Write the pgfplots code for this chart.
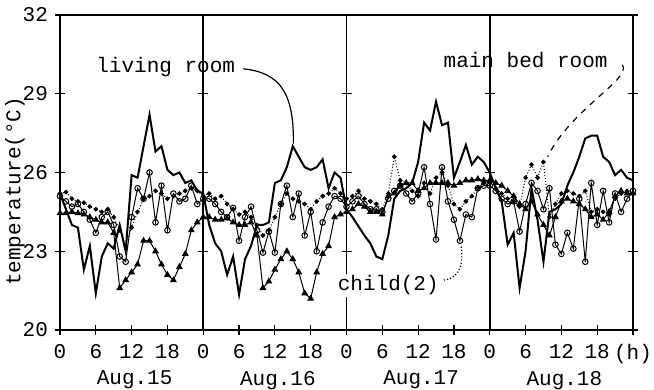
\documentclass[border=0pt]{standalone}
\usepackage{fontspec}
\setmainfont{Liberation Mono}
\usepackage{pgfplots}
\usepackage{pgfplotstable}
\pgfplotsset{compat=1.18}
\pgfplotstableread{
h A B C D
0 25.2 25.1 25.2 24.45
1 24.6 24.9 25.25 24.45
2 24.0 24.7 25.0 24.5
3 23.9 24.8 24.9 24.45
4 22.3 24.5 24.85 24.4
5 23.2 24.2 24.7 24.3
6 21.4 23.7 24.6 24.2
7 22.8 24.3 24.5 24.1
8 23.3 24.5 24.6 24.1
9 23.1 24.0 24.3 23.7
10 24.0 22.8 23.8 21.6
11 23.0 22.6 23.2 21.9
12 25.9 24.3 23.9 22.2
13 25.8 25.4 24.5 22.5
14 27.0 25.0 25.0 23.4
15 28.2 26.0 25.1 23.4
16 26.8 24.1 25.3 23.0
17 27.0 25.5 25.2 22.5
18 26.1 23.8 25.0 22.1
19 25.9 25.2 25.1 21.9
20 26.0 24.9 25.2 22.4
21 25.6 25.0 25.3 22.9
22 25.7 25.5 25.4 23.8
23 25.3 24.8 25.3 24.1
24 25.2 25.0 25.1 24.3
25 24.0 25.0 25.2 24.3
26 23.3 24.8 25.0 24.2
27 23.0 24.5 25.1 24.2
28 22.1 24.3 24.8 24.25
29 22.8 24.65 24.6 24.1
30 21.35 23.4 24.4 24.0
31 22.7 24.3 24.5 24.0
32 23.2 24.7 24.3 24.1
33 24.0 23.8 24.0 23.6
34 24.0 22.95 23.6 21.6
35 24.1 23.75 23.8 21.85
36 25.6 22.95 24.3 22.3
37 25.7 24.8 24.8 22.7
38 26.2 25.5 25.2 23.0
39 27.0 24.3 25.0 22.7
40 26.6 25.2 24.9 22.2
41 26.2 23.6 24.8 21.4
42 26.1 24.5 24.6 21.2
43 26.2 23.0 24.9 22.2
44 26.5 24.1 25.1 22.9
45 25.4 24.7 25.2 23.2
46 26.0 25.1 25.4 24.3
47 25.8 25.0 25.2 24.4
48 24.6 24.7 25.0 24.5
49 24.3 24.9 25.1 24.6
50 23.95 25.1 25.3 24.8
51 23.6 24.8 25.0 24.7
52 23.3 24.6 24.9 24.5
53 22.8 24.6 24.8 24.5
54 22.7 24.5 24.6 24.4
55 23.6 25.0 25.2 25.1
56 25.0 25.3 26.6 25.2
57 25.3 25.5 25.7 25.5
58 25.4 25.2 25.6 25.6
59 25.6 24.9 25.3 25.6
60 26.4 25.2 25.1 25.3
61 27.9 26.2 25.6 25.4
62 27.6 24.8 25.2 25.6
63 28.7 23.45 25.8 25.6
64 27.8 26.2 26.0 25.6
65 27.9 24.9 25.5 25.6
66 25.8 24.2 24.8 25.5
67 26.4 23.4 24.6 25.6
68 27.05 24.4 24.9 25.7
69 26.3 24.3 25.1 25.7
70 26.6 25.4 25.4 25.75
71 26.4 25.5 25.6 25.7
72 26.0 25.5 25.6 25.7
73 25.4 25.3 25.4 25.6
74 24.9 25.0 25.2 25.5
75 23.25 24.8 25.0 25.3
76 23.7 24.9 24.9 25.1
77 21.6 23.75 24.7 24.8
78 23.0 24.8 25.8 24.6
79 25.4 25.6 26.3 24.9
80 24.2 25.3 25.8 24.4
81 22.6 24.6 26.4 24.0
82 24.5 25.4 24.3 23.6
83 24.6 23.25 24.8 24.3
84 24.8 22.9 25.2 24.9
85 25.5 23.7 25.3 25.0
86 26.0 23.1 25.2 24.9
87 26.6 25.0 25.1 24.8
88 27.3 22.6 25.3 24.6
89 27.4 25.6 24.5 24.3
90 27.4 24.0 24.6 24.4
91 26.6 25.3 24.5 24.2
92 26.4 24.1 24.4 24.5
93 25.9 25.2 25.0 25.1
94 26.1 24.5 25.2 25.3
95 25.8 25.0 25.3 25.2
96 25.7 25.3 25.2 25.2
}\data
\begin{document}
\begin{tikzpicture}
\begin{axis}[name=ax,
  scale only axis, width=286.5pt, height=157.5pt,
  xmin=0, xmax=96, ymin=20, ymax=32,
  axis line style={line width=0.8pt},
  xtick={0,6,...,96},
  xticklabels={0,6,12,18,0,6,12,18,0,6,12,18,0,6,12,18,(h)},
  ytick={20,23,26,29,32},
  tick align=center, major tick length=5pt,
  tick style={black, line width=0.6pt},
  xtick pos=bottom,
  ytick pos=both,
  /pgf/number format/assume math mode=true,
  tick label style={font=\fontsize{10.5}{12}\selectfont},
  xticklabel style={yshift=-1pt},
  ylabel={temperature(°C)},
  ylabel style={font=\fontsize{10.5}{12}\selectfont, at={(axis description cs:-0.0785,0.44)}, anchor=center, rotate=0},
  clip=false,
]
\draw[line width=0.8pt] (axis cs:24,20) -- (axis cs:24,32);
\draw[line width=0.8pt] (axis cs:48,20) -- (axis cs:48,32);
\draw[line width=0.8pt] (axis cs:72,20) -- (axis cs:72,32);
\foreach \d in {24,48,72}{
  \foreach \t in {23,26,29}{
    \edef\temp{\noexpand\draw[line width=0.6pt] ([xshift=-2.5pt]axis cs:\d,\t) -- ([xshift=2.5pt]axis cs:\d,\t);}
    \temp
  }
}
\addplot[black, line width=0.5pt, densely dotted, mark=*, mark size=0.9pt, mark options={solid}] table[x=h,y=C] {\data};
\addplot[black, line width=0.5pt, mark=triangle*, mark size=1.5pt, mark options={solid}] table[x=h,y=D] {\data};
\addplot[black, line width=0.5pt, mark=o, mark size=1.4pt, mark options={solid, fill=white}] table[x=h,y=B] {\data};
\addplot[black, line width=1.0pt] table[x=h,y=A] {\data};
% annotations
\node[font=\fontsize{10.5}{12}\selectfont, anchor=east] at (axis cs:30.5,30.0) {living room};
\draw[line width=0.6pt] (axis cs:30.7,29.95) .. controls (axis cs:37,29.8) and (axis cs:39.2,29.0) .. (axis cs:39.1,27.1);
\node[font=\fontsize{10.5}{12}\selectfont] at (axis cs:78.0,30.3) {main bed room};
\draw[line width=0.6pt, dashed] (axis cs:94.2,30.1) .. controls (axis cs:96.0,29.6) and (axis cs:85.5,28.4) .. (axis cs:81.7,26.6);
\node[font=\fontsize{10.5}{12}\selectfont, fill=white, inner sep=1pt] at (axis cs:55.0,21.7) {child(2)};
\draw[line width=0.6pt, densely dotted] (axis cs:64.3,21.9) .. controls (axis cs:67.5,22.0) and (axis cs:67.5,22.7) .. (axis cs:67.2,23.2);
% day labels
\foreach \c/\l in {12.5/Aug.15, 36.5/Aug.16, 60.5/Aug.17, 84.5/Aug.18}{
  \edef\temp{\noexpand\node[font=\noexpand\fontsize{10.5}{12}\noexpand\selectfont, anchor=north] at ([yshift=-17pt]axis cs:\c,20) {\l};}
  \temp
}
\end{axis}
\pgfresetboundingbox
\path[use as bounding box] ([xshift=-30pt,yshift=-29.5pt]ax.south west) rectangle ([xshift=10.5pt,yshift=7.5pt]ax.north east);
\end{tikzpicture}
\end{document}
